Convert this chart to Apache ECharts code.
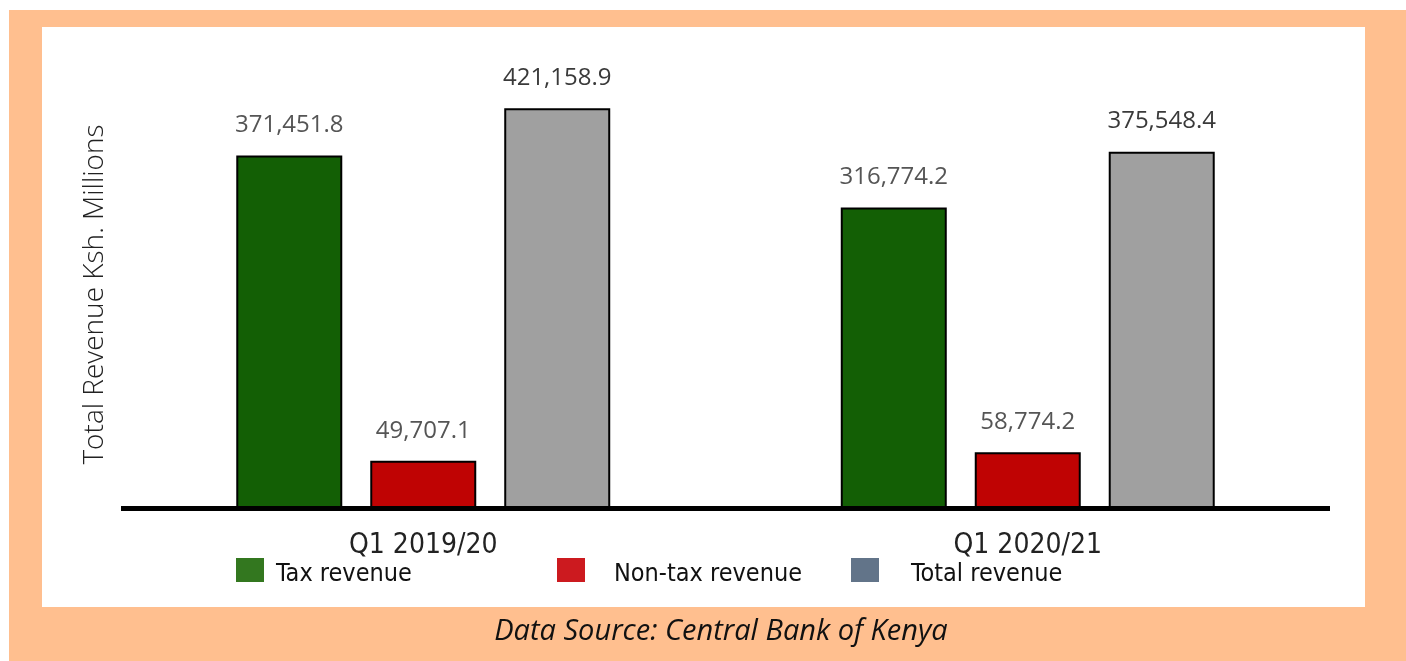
<!DOCTYPE html>
<html>
<head>
<meta charset="utf-8">
<script src="https://cdn.jsdelivr.net/npm/echarts@6/dist/echarts.min.js"></script>
<style>
  html, body { margin: 0; padding: 0; background: #fff; }
  #main { width: 1406px; height: 661px; }
</style>
</head>
<body>
<div id="main"></div>
<script>
var categories = ['Q1 2019/20', 'Q1 2020/21'];
var seriesNames = ['Tax revenue', 'Non-tax revenue', 'Total revenue'];
var taxRevenue = [371451.8, 316774.2];
var nonTaxRevenue = [49707.1, 58774.2];
var totalRevenue = [421158.9, 375548.4];

var barColors = ['#135f05', '#bf0303', '#a0a0a0'];
var legendColors = ['#33771f', '#cc1a1f', '#627489'];
var condensed = '"Liberation Sans Narrow", "DejaVu Sans Condensed", "Open Sans", sans-serif';

var chart = echarts.init(document.getElementById('main'));

function fmt(v) {
  return v.toLocaleString('en-US', { minimumFractionDigits: 1, maximumFractionDigits: 1 });
}

function barSeries(name, data, i, labelColor) {
  return {
    name: name,
    type: 'bar',
    data: data,
    barWidth: 106,
    barGap: '26.4%',
    itemStyle: { color: barColors[i], borderColor: '#000', borderWidth: 2 },
    label: {
      show: true,
      position: 'top',
      distance: 18,
      color: labelColor,
      fontFamily: '"Open Sans", sans-serif',
      fontSize: 24,
      formatter: function (p) { return fmt(p.value); }
    }
  };
}

function legendAt(left, i, pad) {
  return {
    left: left,
    top: 558,
    padding: 0,
    itemWidth: 28,
    itemHeight: 24,
    icon: 'rect',
    selectedMode: false,
    data: [{ name: seriesNames[i], itemStyle: { color: legendColors[i], borderWidth: 0 } }],
    formatter: '{t|{name}}',
    textStyle: {
      color: '#111', fontSize: 25, fontFamily: condensed,
      rich: { t: { color: '#111', fontSize: 25, fontFamily: condensed, padding: [8, 0, 0, pad] } }
    }
  };
}

chart.setOption({
  backgroundColor: '#fff',
  animation: false,
  graphic: [
    { type: 'rect', z: -10, shape: { x: 9, y: 10, width: 1397, height: 651 }, style: { fill: '#ffbf8f' } },
    { type: 'rect', z: -9, shape: { x: 42, y: 27, width: 1323, height: 580 }, style: { fill: '#fff' } },
    {
      type: 'text', x: 721, y: 632,
      style: {
        text: 'Data Source: Central Bank of Kenya',
        fill: '#111', fontSize: 29, fontStyle: 'italic',
        fontFamily: '"Open Sans", sans-serif',
        textAlign: 'center', textVerticalAlign: 'middle'
      }
    }
  ],
  legend: [
    legendAt(236, 0, 7),
    legendAt(557, 1, 24),
    legendAt(851, 2, 27)
  ],
  grid: { left: 121, right: 76, top: 81, bottom: 153 },
  xAxis: {
    type: 'category',
    data: categories,
    axisLine: { lineStyle: { color: '#000', width: 5, cap: 'butt' } },
    axisTick: { show: false },
    axisLabel: { color: '#222', fontSize: 28, fontFamily: condensed, margin: 24 }
  },
  yAxis: {
    type: 'value',
    min: 0,
    max: 450000,
    name: 'Total Revenue Ksh. Millions',
    nameLocation: 'middle',
    nameRotate: 90,
    nameGap: 12,
    nameTextStyle: { color: '#222', fontSize: 28, fontFamily: '"Open Sans", sans-serif', fontWeight: 300 },
    axisLine: { show: false },
    axisTick: { show: false },
    axisLabel: { show: false },
    splitLine: { show: false }
  },
  series: [
    barSeries(seriesNames[0], taxRevenue, 0, '#555'),
    barSeries(seriesNames[1], nonTaxRevenue, 1, '#555'),
    barSeries(seriesNames[2], totalRevenue, 2, '#3a3a3a')
  ]
});
</script>
</body>
</html>
